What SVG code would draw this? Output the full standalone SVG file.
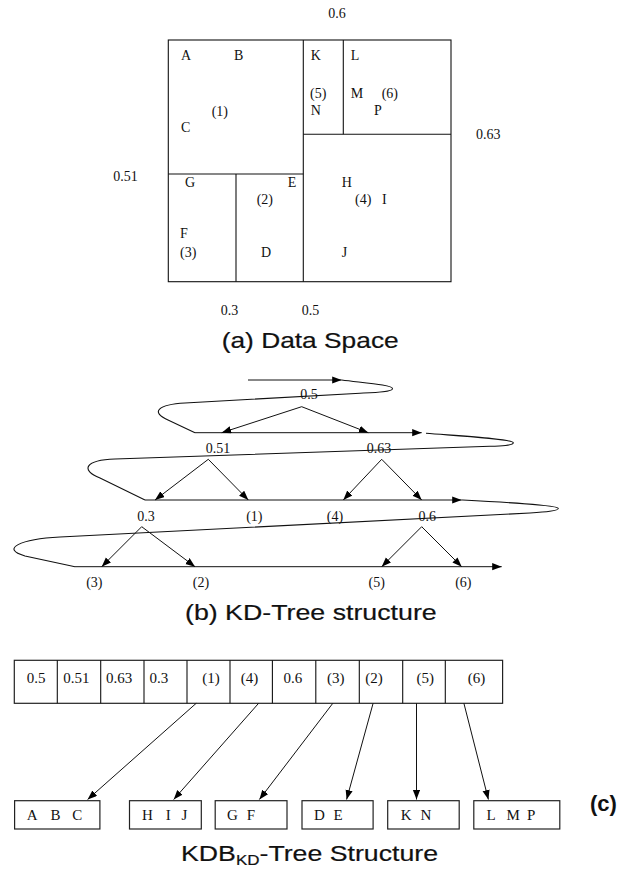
<svg xmlns="http://www.w3.org/2000/svg" width="619" height="869" viewBox="0 0 619 869">
  <defs>
    <marker id="arrow" markerUnits="userSpaceOnUse" markerWidth="10" markerHeight="8" refX="9.5" refY="3.6" orient="auto">
      <path d="M0,0 L9.5,3.6 L0,7.2 z" fill="#000"/>
    </marker>
  </defs>
  <style>
    .ln { stroke: #111; stroke-width: 1.1; fill: none; }
    .ar { stroke: #111; stroke-width: 1; fill: none; marker-end: url(#arrow); }
    .box { stroke: #222; stroke-width: 1.2; fill: #fff; }
    .t { font-family: "Liberation Serif", "Times New Roman", serif; font-size: 14px; fill: #111; }
    .tc { font-family: "Liberation Serif", "Times New Roman", serif; font-size: 15px; fill: #111; }
    .m { text-anchor: middle; }
    .title { font-family: "Liberation Sans", Arial, sans-serif; font-size: 22px; fill: #111; stroke: #111; stroke-width: 0.2; }
    .tag { font-family: "Liberation Sans", Arial, sans-serif; font-size: 22px; font-weight: bold; fill: #111; }
  </style>
  <rect width="619" height="869" fill="#fff"/>

  <!-- (a) data space partition -->
  <g id="data-space">
    <rect class="ln" x="168.3" y="40" width="282.7" height="241.7"/>
    <line class="ln" x1="303.3" y1="40" x2="303.3" y2="281.7"/>
    <line class="ln" x1="343.3" y1="40" x2="343.3" y2="134.3"/>
    <line class="ln" x1="303.3" y1="134.3" x2="451" y2="134.3"/>
    <line class="ln" x1="168.3" y1="174" x2="303.3" y2="174"/>
    <line class="ln" x1="236" y1="174" x2="236" y2="281.7"/>
    <text class="t m" x="337" y="18">0.6</text>
    <text class="t" x="181" y="60">A</text>
    <text class="t" x="234" y="60">B</text>
    <text class="t" x="310.7" y="60">K</text>
    <text class="t" x="350.7" y="60">L</text>
    <text class="t" x="310" y="97.7">(5)</text>
    <text class="t" x="350.7" y="97.7">M</text>
    <text class="t" x="381.7" y="97.7">(6)</text>
    <text class="t" x="310.7" y="115">N</text>
    <text class="t" x="374" y="115">P</text>
    <text class="t" x="211.7" y="116">(1)</text>
    <text class="t" x="181" y="131.7">C</text>
    <text class="t" x="476" y="139">0.63</text>
    <text class="t" x="113.3" y="180.7">0.51</text>
    <text class="t" x="185" y="186.7">G</text>
    <text class="t" x="287.7" y="186.7">E</text>
    <text class="t" x="341.7" y="186.7">H</text>
    <text class="t" x="256.7" y="204.3">(2)</text>
    <text class="t" x="355" y="204.3">(4)</text>
    <text class="t" x="382" y="204.3">I</text>
    <text class="t" x="180" y="237.7">F</text>
    <text class="t" x="180" y="256.7">(3)</text>
    <text class="t" x="261" y="256.7">D</text>
    <text class="t" x="341.7" y="256.7">J</text>
    <text class="t" x="220.7" y="315">0.3</text>
    <text class="t" x="301.7" y="315">0.5</text>
    <text class="title" x="221.7" y="348" textLength="177" lengthAdjust="spacingAndGlyphs">(a) Data Space</text>
  </g>

  <!-- (b) KD-tree: split labels -->
  <g id="kd-nodes">
    <text class="t m" x="309" y="398.5">0.5</text>
    <text class="t m" x="218" y="452.7">0.51</text>
    <text class="t m" x="379" y="452.7">0.63</text>
    <text class="t m" x="146" y="520.7">0.3</text>
    <text class="t m" x="254.3" y="520.7">(1)</text>
    <text class="t m" x="335" y="520.7">(4)</text>
    <text class="t m" x="427.3" y="520.7">0.6</text>
    <text class="t m" x="94.3" y="587.3">(3)</text>
    <text class="t m" x="201" y="587.3">(2)</text>
    <text class="t m" x="376.7" y="587.3">(5)</text>
    <text class="t m" x="463.3" y="587.3">(6)</text>
  </g>

  <!-- (b) KD-tree: serialisation path and child links -->
  <g id="kd-connectors">
    <line class="ar" x1="248" y1="380" x2="341.7" y2="380"/>
    <path class="ln" d="M341.7,380 C365,383 393,385 392.5,388.7 C392,392 375,392.5 360,393.2 L185,403 C158,404.5 150,412 168,420 L195,432.7"/>
    <line class="ar" x1="195" y1="432.7" x2="421.7" y2="432.7"/>
    <line class="ar" x1="301.7" y1="406.7" x2="221.7" y2="432.7"/>
    <line class="ar" x1="301.7" y1="406.7" x2="368.3" y2="432.7"/>

    <path class="ln" d="M426,433.3 C460,436 513,439 513.3,442.7 C513.5,445.5 500,446 490,446.3 L115,459 C85,460 80,470 100,478 L145,500"/>
    <line class="ar" x1="145" y1="500" x2="461.7" y2="500"/>
    <line class="ar" x1="208.3" y1="459.3" x2="155" y2="500"/>
    <line class="ar" x1="208.3" y1="459.3" x2="248.3" y2="500"/>
    <line class="ar" x1="381.7" y1="459.3" x2="343.3" y2="500"/>
    <line class="ar" x1="381.7" y1="459.3" x2="421.7" y2="500"/>

    <path class="ln" d="M461.7,500 C500,502 558,505 558.3,508.3 C558.5,511 545,512 530,513 L60,537 C20,539 0,549 25,556 L75,566.7"/>
    <line class="ar" x1="75" y1="566.7" x2="501.7" y2="566.7"/>
    <line class="ar" x1="141.7" y1="526.7" x2="101.7" y2="566.7"/>
    <line class="ar" x1="141.7" y1="526.7" x2="195" y2="566.7"/>
    <line class="ar" x1="421.7" y1="526.7" x2="381.7" y2="566.7"/>
    <line class="ar" x1="421.7" y1="526.7" x2="461.7" y2="566.7"/>
  </g>
  <text class="title" x="185" y="620" textLength="251.7" lengthAdjust="spacingAndGlyphs">(b) KD-Tree structure</text>

  <!-- (c) KDB-tree: directory node -->
  <g id="directory">
    <rect class="box" x="14.3" y="660.3" width="488.3" height="43"/>
    <g class="ln">
      <line x1="57.3" y1="660.3" x2="57.3" y2="703.3"/>
      <line x1="100.7" y1="660.3" x2="100.7" y2="703.3"/>
      <line x1="144" y1="660.3" x2="144" y2="703.3"/>
      <line x1="187" y1="660.3" x2="187" y2="703.3"/>
      <line x1="230" y1="660.3" x2="230" y2="703.3"/>
      <line x1="272.4" y1="660.3" x2="272.4" y2="703.3"/>
      <line x1="315.8" y1="660.3" x2="315.8" y2="703.3"/>
      <line x1="359.3" y1="660.3" x2="359.3" y2="703.3"/>
      <line x1="402.7" y1="660.3" x2="402.7" y2="703.3"/>
      <line x1="445.3" y1="660.3" x2="445.3" y2="703.3"/>
    </g>
    <text class="tc" x="26.7" y="682.7">0.5</text>
    <text class="tc" x="63.3" y="682.7">0.51</text>
    <text class="tc" x="106" y="682.7">0.63</text>
    <text class="tc" x="149.5" y="682.7">0.3</text>
    <text class="tc" x="202.3" y="682.7">(1)</text>
    <text class="tc" x="240.8" y="682.7">(4)</text>
    <text class="tc" x="283.5" y="682.7">0.6</text>
    <text class="tc" x="326.9" y="682.7">(3)</text>
    <text class="tc" x="365.2" y="682.7">(2)</text>
    <text class="tc" x="416.5" y="682.7">(5)</text>
    <text class="tc" x="467.8" y="682.7">(6)</text>
  </g>

  <!-- (c) KDB-tree: data pages -->
  <g id="page-1">
    <rect class="box" x="14.6" y="800.7" width="85.3" height="28.3"/>
    <text class="tc" y="820"><tspan x="26.8">A</tspan><tspan x="50.5">B</tspan><tspan x="72.2">C</tspan></text>
  </g>
  <g id="page-4">
    <rect class="box" x="129.5" y="800.7" width="71.8" height="28.3"/>
    <text class="tc" y="820"><tspan x="142.1">H</tspan><tspan x="165.8">I</tspan><tspan x="181.6">J</tspan></text>
  </g>
  <g id="page-3">
    <rect class="box" x="215.2" y="800.7" width="71.8" height="28.3"/>
    <text class="tc" y="820"><tspan x="227">G</tspan><tspan x="246.7">F</tspan></text>
  </g>
  <g id="page-2">
    <rect class="box" x="302" y="800.7" width="71.1" height="28.3"/>
    <text class="tc" y="820"><tspan x="313.9">D</tspan><tspan x="333.6">E</tspan></text>
  </g>
  <g id="page-5">
    <rect class="box" x="387.7" y="800.7" width="71.5" height="28.3"/>
    <text class="tc" y="820"><tspan x="400.7">K</tspan><tspan x="420.5">N</tspan></text>
  </g>
  <g id="page-6">
    <rect class="box" x="473.8" y="800.7" width="86" height="28.3"/>
    <text class="tc" y="820"><tspan x="486.4">L</tspan><tspan x="506.5">M</tspan><tspan x="527">P</tspan></text>
  </g>

  <!-- (c) directory entries to pages -->
  <g id="page-links">
    <line class="ar" x1="196.2" y1="703.3" x2="87.6" y2="799.5"/>
    <line class="ar" x1="258.6" y1="703.3" x2="173.7" y2="799.5"/>
    <line class="ar" x1="332.8" y1="703.3" x2="259.4" y2="799.5"/>
    <line class="ar" x1="373.1" y1="703.3" x2="346.6" y2="799.5"/>
    <line class="ar" x1="416.5" y1="703.3" x2="416.5" y2="799.5"/>
    <line class="ar" x1="463.9" y1="703.3" x2="488.4" y2="799.5"/>
  </g>

  <text class="tag" x="590" y="811">(c)</text>
  <text class="title" x="181" y="861" textLength="257" lengthAdjust="spacingAndGlyphs">KDB<tspan font-size="14" dy="3.5">KD</tspan><tspan dy="-3.5">-Tree Structure</tspan></text>
</svg>
